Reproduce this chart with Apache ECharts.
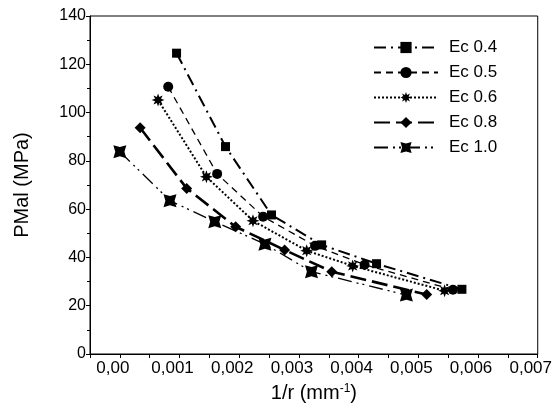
<!DOCTYPE html>
<html>
<head>
<meta charset="utf-8">
<script src="https://cdn.jsdelivr.net/npm/echarts@6/dist/echarts.min.js"></script>
<style>
  html, body { margin: 0; padding: 0; background: #fff; }
  #chart { width: 555px; height: 414px; }
</style>
</head>
<body>
<div id="chart"></div>
<script>
// series names
var seriesNames = ['Ec 0.4', 'Ec 0.5', 'Ec 0.6', 'Ec 0.8', 'Ec 1.0'];

// 1/r values (mm^-1)
var xEc04 = [0.00095, 0.00177, 0.00254, 0.00338, 0.0043, 0.00573];
var xEc05 = [0.00081, 0.00163, 0.0024, 0.00327, 0.0041, 0.00558];
var xEc06 = [0.00064, 0.00145, 0.00223, 0.00313, 0.0039, 0.00544];
var xEc08 = [0.00034, 0.00112, 0.00194, 0.00276, 0.00355, 0.00514];
var xEc10 = [0.0, 0.00084, 0.00159, 0.00243, 0.00321, 0.0048];

// PMal values (MPa)
var yEc04 = [124.6, 85.9, 57.6, 45.2, 37.4, 26.8];
var yEc05 = [110.7, 74.6, 56.9, 44.8, 37.0, 26.6];
var yEc06 = [105.2, 73.4, 55.2, 42.8, 36.5, 26.2];
var yEc08 = [93.7, 68.6, 52.7, 43.1, 34.1, 24.6];
var yEc10 = [83.8, 63.5, 54.8, 45.5, 34.1, 24.4];

var xs = [xEc04, xEc05, xEc06, xEc08, xEc10];
var ys = [yEc04, yEc05, yEc06, yEc08, yEc10];

// marker shapes
function starPath(n, inner, rot) {
    var pts = [];
    for (var k = 0; k < n * 2; k++) {
        var a = Math.PI * k / n + rot;
        var r = k % 2 === 0 ? 10 : 10 * inner;
        pts.push((10 + r * Math.cos(a)).toFixed(2) + ',' + (10 + r * Math.sin(a)).toFixed(2));
    }
    return 'path://M' + pts.join(' L') + ' Z';
}

var symbols = ['rect', 'circle', starPath(8, 0.5, -Math.PI / 2), 'diamond', starPath(4, 0.5, Math.PI / 4)];
var symbolSizes = [9, 10, 13, 11, 13];
var lineTypes = [[12, 5, 2, 5], [7, 5], [2, 2], [16, 6], [14, 5, 2, 4, 2, 5]];
var lineWidths = [2, 1.3, 2, 2.6, 1.3];

var font = 'Liberation Sans, Arial, sans-serif';

var series = seriesNames.map(function(name, i) {
    return {
        name: name,
        type: 'line',
        data: xs[i].map(function(x, j) { return [x, ys[i][j]]; }),
        symbol: symbols[i],
        symbolSize: symbolSizes[i],
        itemStyle: { color: '#000' },
        lineStyle: { color: '#000', width: lineWidths[i], type: lineTypes[i] }
    };
});

var chart = echarts.init(document.getElementById('chart'));
var option = {
    backgroundColor: '#fff',
    animation: false,
    textStyle: { fontFamily: font, color: '#000' },
    grid: {
        left: 90,
        right: 17,
        top: 16,
        bottom: 60,
        show: true,
        borderColor: '#000',
        borderWidth: 1
    },
    legend: {
        orient: 'vertical',
        left: 368,
        top: 34,
        itemWidth: 64,
        itemHeight: 14,
        itemGap: 8,
        textStyle: { fontFamily: font, fontSize: 17, color: '#000', padding: [0, 0, 0, 6] },
        data: seriesNames
    },
    xAxis: {
        type: 'value',
        min: -0.0005,
        max: 0.007,
        interval: 0.0005,
        name: '1/r (mm{sup|-1})',
        nameLocation: 'middle',
        nameGap: 29,
        nameTextStyle: {
            fontFamily: font,
            fontSize: 20,
            color: '#000',
            rich: {
                sup: { fontSize: 12, verticalAlign: 'top', padding: [0, 0, 9, 0], fontFamily: font, color: '#000' }
            }
        },
        axisLine: { onZero: false, lineStyle: { color: '#000', width: 1 } },
        axisTick: { inside: false, length: 4, lineStyle: { color: '#000' } },
        splitLine: { show: false },
        axisLabel: {
            color: '#000',
            fontSize: 17,
            fontFamily: font,
            margin: 6,
            padding: [0, 14, 0, 0],
            showMinLabel: true,
            showMaxLabel: true,
            formatter: function(v) {
                var k = Math.round(v * 10000);
                if (k < 0 || k % 10 !== 0) return '';
                if (k === 0) return '0,00';
                return (k / 10000).toFixed(3).replace('.', ',');
            }
        }
    },
    yAxis: {
        type: 'value',
        min: 0,
        max: 140,
        interval: 20,
        name: 'PMal (MPa)',
        nameLocation: 'middle',
        nameGap: 58,
        nameTextStyle: { fontFamily: font, fontSize: 20, color: '#000' },
        axisLine: { onZero: false, lineStyle: { color: '#000', width: 1 } },
        axisTick: { length: 4, lineStyle: { color: '#000' } },
        minorTick: { show: true, splitNumber: 2, length: 3, lineStyle: { color: '#000' } },
        splitLine: { show: false },
        axisLabel: { color: '#000', fontSize: 16, fontFamily: font, margin: 4 }
    },
    series: series
};
chart.setOption(option);
</script>
</body>
</html>
